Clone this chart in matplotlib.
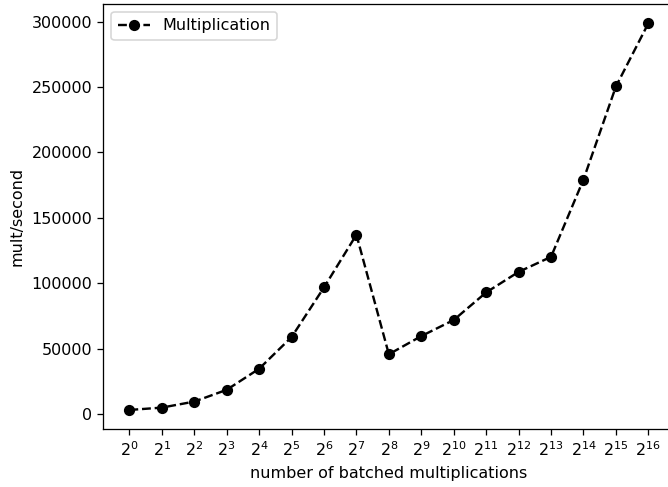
import matplotlib.pyplot as plt
import numpy as np

# batch sizes as powers of two: 2^0 .. 2^16
exponents = list(range(0, 17))
tick_labels = ["$2^{%d}$" % e for e in exponents]

# multiplications per second
mult_per_sec = [3000, 4800, 9400, 18400, 34500, 58700, 96700, 137000,
                45600, 59500, 71800, 92900, 108600, 120100, 179200,
                250400, 298700]

# original looks rendered at ~115 dpi, then tightly cropped
DPI = 115
W, H = 668, 487
fig = plt.figure(figsize=(W / DPI, H / DPI), dpi=DPI)
# axes placed in pixels; right edge runs slightly past the figure (cropped in the original)
ax = fig.add_axes([103.4 / W, 1 - 429.3 / H, (674.3 - 103.4) / W, (429.3 - 4) / H])

ax.plot(exponents, mult_per_sec, color="black", linestyle="--", marker="o",
        label="Multiplication")
ax.set_xticks(exponents)
ax.set_xticklabels(tick_labels)
ax.set_xlabel("number of batched multiplications")
ax.set_ylabel("mult/second")
ax.legend(loc="upper left")

fig.savefig("out.png", dpi=DPI)
